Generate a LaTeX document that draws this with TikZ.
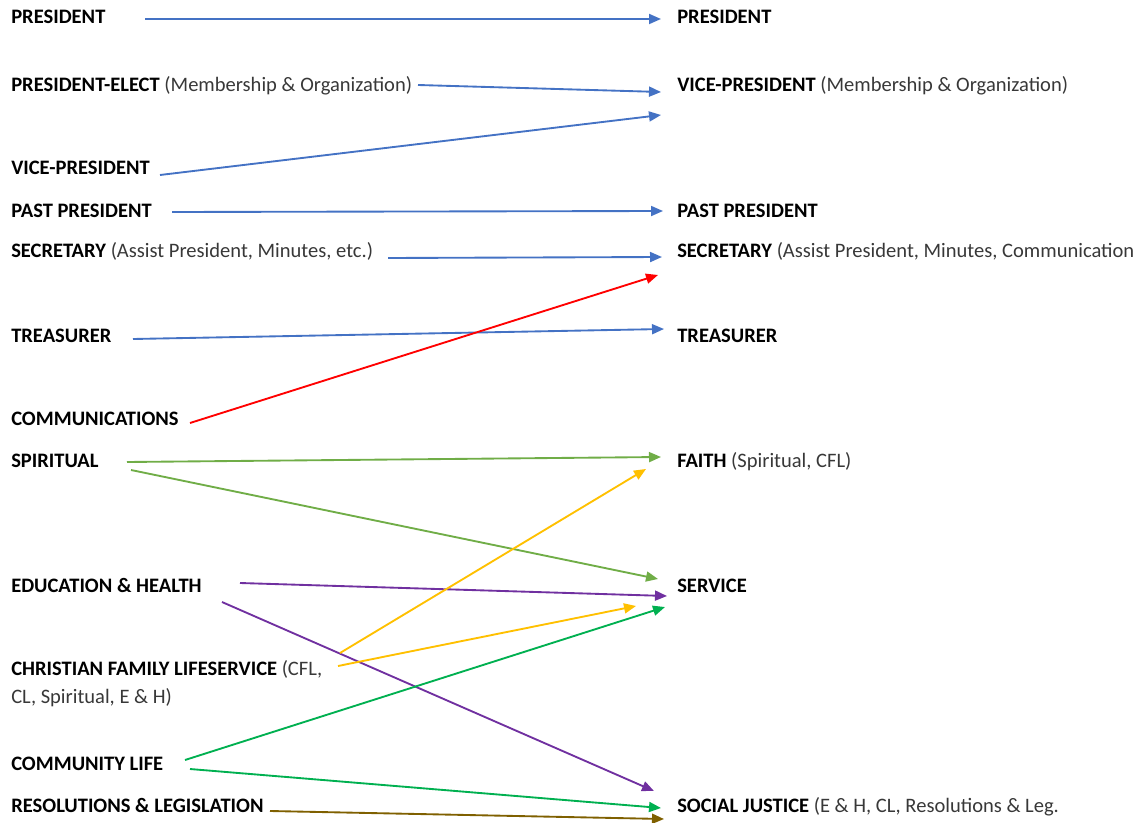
\documentclass[tikz,border=0pt]{standalone}
\usepackage{fontspec}
\setmainfont{Carlito}
\usetikzlibrary{arrows.meta}

\definecolor{offblue}{HTML}{4472C4}
\definecolor{offred}{HTML}{FF0000}
\definecolor{offlgreen}{HTML}{70AD47}
\definecolor{offpurple}{HTML}{7030A0}
\definecolor{offyellow}{HTML}{FFC000}
\definecolor{offgreen}{HTML}{00B050}
\definecolor{offbrown}{HTML}{7F6000}
\definecolor{subgray}{HTML}{383838}

\newcommand{\subtxt}[1]{{\color{subgray}#1}}

\begin{document}
\begin{tikzpicture}
  [x=0.75pt,y=-0.75pt,
   every node/.style={anchor=base west,inner sep=0pt,font=\fontsize{15.4}{21}\selectfont},
   arr/.style={-{Triangle[length=9pt,width=7.5pt]},line width=1.4pt}]
  \useasboundingbox (0,0) rectangle (1137,823);

  % old offices
  \node (o1) at (11,24)  {\textbf{PRESIDENT}};
  \node (o2) at (11,92)  {\textbf{PRESIDENT-ELECT} \subtxt{(Membership \& Organization)}};
  \node (o3) at (11,175) {\textbf{VICE-PRESIDENT}};
  \node (o4) at (11,218) {\textbf{PAST PRESIDENT}};
  \node (o5) at (11,258) {\textbf{SECRETARY} \subtxt{(Assist President, Minutes, etc.)}};
  \node (o6) at (11,342) {\textbf{TREASURER}};
  \node (o7) at (11,425) {\textbf{COMMUNICATIONS}};
  \node (o8) at (11,467) {\textbf{SPIRITUAL}};
  \node (o9) at (11,592) {\textbf{EDUCATION \& HEALTH}};
  \node (o10) at (11,675) {\textbf{CHRISTIAN FAMILY LIFESERVICE} \subtxt{(CFL,}};
  \node (o10b) at (11,703) {\subtxt{CL, Spiritual, E \& H)}};
  \node (o11) at (11,770) {\textbf{COMMUNITY LIFE}};
  \node (o12) at (11,812) {\textbf{RESOLUTIONS \& LEGISLATION}};

  % new offices
  \node (n1) at (677,24)  {\textbf{PRESIDENT}};
  \node (n2) at (677,92)  {\textbf{VICE-PRESIDENT} \subtxt{(Membership \& Organization)}};
  \node (n3) at (677,218) {\textbf{PAST PRESIDENT}};
  \node (n4) at (677,258) {\textbf{SECRETARY} \subtxt{(Assist President, Minutes, Communication}};
  \node (n5) at (677,342) {\textbf{TREASURER}};
  \node (n6) at (677,467) {\textbf{FAITH} \subtxt{(Spiritual, CFL)}};
  \node (n7) at (677,592) {\textbf{SERVICE}};
  \node (n8) at (677,812) {\textbf{SOCIAL JUSTICE} \subtxt{(E \& H, CL, Resolutions \& Leg.}};

  % arrow ends
  \coordinate (s1) at (145,19);  \coordinate (t1) at (661,19);
  \coordinate (s2) at (418,85);  \coordinate (t2) at (661,92);
  \coordinate (s3) at (160,175); \coordinate (t3) at (661,115);
  \coordinate (s4) at (172,212); \coordinate (t4) at (663,211);
  \coordinate (s5) at (388,258); \coordinate (t5) at (662,257);
  \coordinate (s6) at (133,339); \coordinate (t6) at (664,329);
  \coordinate (s7) at (190,423); \coordinate (t7) at (658,275);
  \coordinate (s8) at (127,462); \coordinate (t8) at (661,457);
  \coordinate (s9) at (131,470); \coordinate (t9) at (658,579);
  \coordinate (s10) at (240,583); \coordinate (t10) at (667,596);
  \coordinate (s11) at (222,602); \coordinate (t11) at (654,791);
  \coordinate (s12) at (340,653); \coordinate (t12) at (646,469);
  \coordinate (s13) at (338,666); \coordinate (t13) at (636,606);
  \coordinate (s14) at (185,760); \coordinate (t14) at (665,607);
  \coordinate (s15) at (190,769); \coordinate (t15) at (661,808);
  \coordinate (s16) at (270,811); \coordinate (t16) at (664,819);

  \foreach \from/\to/\col in {s1/t1/offblue,s2/t2/offblue,s3/t3/offblue,
      s4/t4/offblue,s5/t5/offblue,s6/t6/offblue,s7/t7/offred,
      s8/t8/offlgreen,s9/t9/offlgreen,s10/t10/offpurple,s11/t11/offpurple,
      s12/t12/offyellow,s13/t13/offyellow,s14/t14/offgreen,s15/t15/offgreen,
      s16/t16/offbrown}
    \draw[arr,\col] (\from) -- (\to);

\end{tikzpicture}
\end{document}
